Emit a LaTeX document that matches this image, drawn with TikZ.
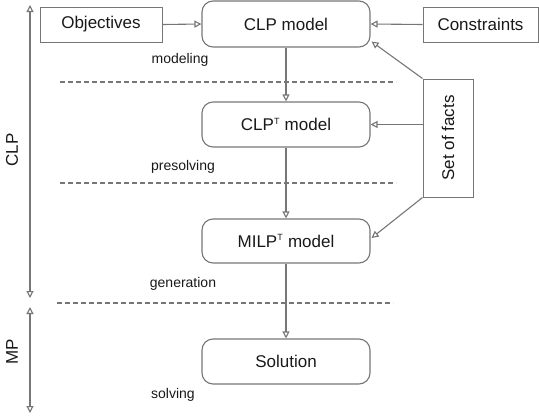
\documentclass[tikz,border=0pt]{standalone}
\usepackage{fontspec}
\setmainfont{Liberation Sans}
\usetikzlibrary{arrows.meta,calc}
\definecolor{ln}{RGB}{118,118,118}
\definecolor{tx}{RGB}{25,25,25}
\tikzset{
  every node/.style={text=tx},
  sqbox/.style={draw=ln,line width=1pt,rectangle,inner sep=0pt,font=\fontsize{17}{20}\selectfont},
  rbox/.style={draw=ln,line width=1.1pt,rectangle,rounded corners=11pt,inner sep=0pt,minimum width=168pt,font=\fontsize{17}{20}\selectfont},
  conn/.style={draw=ln,line width=1.1pt,-{Triangle[open,length=7pt,width=7pt]}},
  biconn/.style={draw=ln,line width=1.1pt,{Triangle[open,length=7pt,width=7pt]}-{Triangle[open,length=7pt,width=7pt]}},
  sep/.style={draw=ln,line width=1.1pt,dash pattern=on 5pt off 3pt},
  lbl/.style={font=\fontsize{14}{16}\selectfont,inner sep=0pt},
  side/.style={font=\fontsize{17}{20}\selectfont,inner sep=0pt,rotate=90}
}
\begin{document}
\begin{tikzpicture}[x=1pt,y=-1pt]
\useasboundingbox (0,0) rectangle (539,418);
% boxes
\node[sqbox,minimum width=122pt,minimum height=35pt] (obj) at (101,24.5) {Objectives};
\node[rbox,minimum height=46pt] (clp) at (286,24) {CLP model};
\node[sqbox,minimum width=115pt,minimum height=35pt] (con) at (480.5,24.5) {Constraints};
\node[sqbox,minimum width=50pt,minimum height=118pt] (facts) at (448,138) {};
\node[side] (factst) at (facts.center) {Set of facts};
\node[rbox,minimum height=45pt] (clpt) at (286,124.5) {CLP\textsuperscript{\fontsize{9}{10}\selectfont T} model};
\node[rbox,minimum height=44pt] (milp) at (286,241) {MILP\textsuperscript{\fontsize{9}{10}\selectfont T} model};
\node[rbox,minimum height=45pt] (sol) at (286,361.5) {Solution};
% connectors
\draw[conn] (obj.east) -- (clp.west);
\draw[conn] (con.west) -- (clp.east);
\draw[conn] (facts.north west) -- ($(clp.south east)+(1,-6)$);
\draw[conn] (facts.west |- clpt.east) -- (clpt.east);
\draw[conn] (facts.south west) -- ($(milp.east)+(1,-3)$);
\draw[conn] (clp) -- (clpt);
\draw[conn] (clpt) -- (milp);
\draw[conn] (milp) -- (sol);
% separators
\draw[sep] (60,82) -- (396,82);
\draw[sep] (60,183) -- (396,183);
\draw[sep] (57,303) -- (393,303);
% phase labels
\node[lbl] (l1) at (180,60) {modeling};
\node[lbl] (l2) at (183,167) {presolving};
\node[lbl] (l3) at (183,284) {generation};
\node[lbl] (l4) at (173,395) {solving};
% left axis
\coordinate (c1) at (30,5);
\coordinate (c2) at (30,298);
\coordinate (m1) at (30,307);
\coordinate (m2) at (30,413);
\draw[biconn] (c2) -- (c1);
\draw[biconn] (m2) -- (m1);
\node[side] (clpl) at (12,150) {CLP};
\node[side] (mpl) at (12,352) {MP};
\end{tikzpicture}
\end{document}
